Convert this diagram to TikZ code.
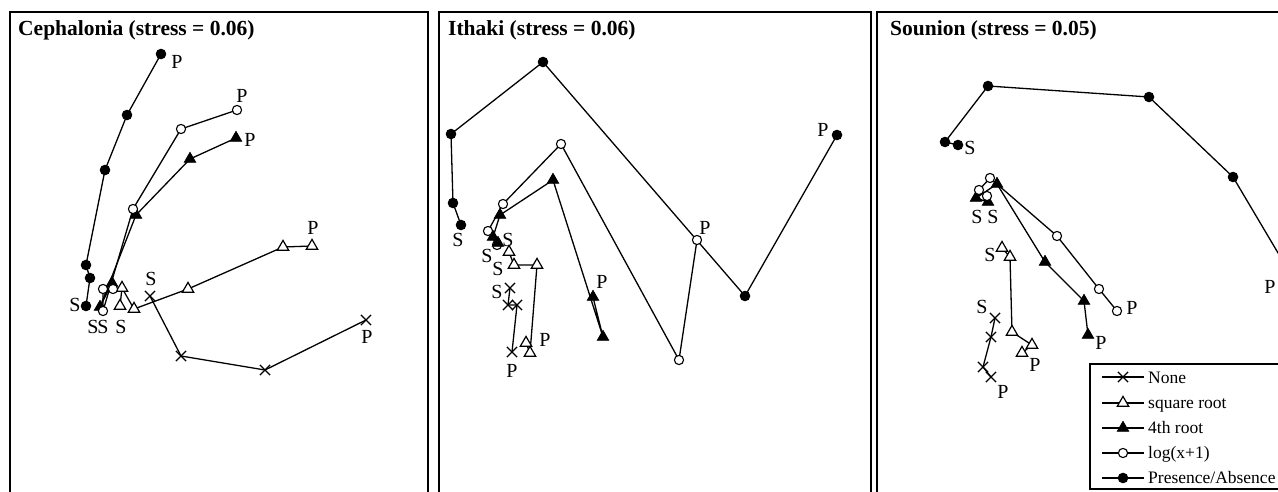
\documentclass[tikz,border=0pt]{standalone}
\usepackage{fontspec}
\setmainfont{Liberation Serif}
\usetikzlibrary{plotmarks}
\begin{document}
\begin{tikzpicture}[x=1pt,y=-1pt,
 ln/.style={line width=1.3pt},
 fc/.style={ln, mark=*, mark size=4.6pt, mark options={solid, fill=black, draw=black}},
 oc/.style={ln, mark=*, mark size=4.6pt, mark options={solid, fill=white, draw=black, line width=1.1pt}},
 ft/.style={ln, mark=triangle*, mark size=6.6pt, mark options={solid, fill=black, draw=black, line width=0.8pt}},
 ot/.style={ln, mark=triangle*, mark size=6.6pt, mark options={solid, fill=white, draw=black, line width=1.2pt}},
 xx/.style={ln, mark=x, mark size=7.2pt, mark options={solid, line width=1.3pt}},
 lab/.style={font=\fontsize{20}{20}\selectfont, inner sep=0},
 leg/.style={font=\fontsize{17.5}{17.5}\selectfont, inner sep=0, anchor=base west},
 ttl/.style={font=\fontsize{21.5}{21.5}\bfseries\selectfont, anchor=base west, inner sep=0},
 frm/.style={line width=2pt}
]
\useasboundingbox (0,0) rectangle (1278,492);
\fill[white] (0,0) rectangle (1278,492);
\clip (0,0) rectangle (1278,492);

% frames
\draw[frm] (10,530) -- (10,12) -- (428,12) -- (428,530);
\draw[frm] (439,530) -- (439,12) -- (871,12) -- (871,530);
\draw[frm] (877,530) -- (877,12) -- (1300,12);

% titles
\node[ttl] (t1) at (18,36) {Cephalonia (stress = 0.06)};
\node[ttl] (t2) at (448,36) {Ithaki (stress = 0.06)};
\node[ttl] (t3) at (890,36) {Sounion (stress = 0.05)};

% ---------- Cephalonia ----------
\draw[xx] plot coordinates {(150,296) (181,356) (265,370) (366,320)};
\draw[ot] plot coordinates {(312,246) (283,247) (188,289) (134,309) (122,288) (120,306)};
\draw[fc] plot coordinates {(161,54) (127,115) (105,170) (86,265) (90,278) (86,306)};
\draw[ft] plot coordinates {(236,138) (190,159) (136,215) (100,307) (112,283)};
\draw[oc] plot coordinates {(237,110) (181,129) (133,209) (103,311) (103,289) (113,289)};

\node[lab] (c1) at (177,62) {P};
\node[lab] (c2) at (242,96) {P};
\node[lab] (c3) at (250,140) {P};
\node[lab] (c4) at (313,228) {P};
\node[lab] (c5) at (367,337) {P};
\node[lab] (c6) at (75,305) {S};
\node[lab] (c7) at (93,327) {S};
\node[lab] (c8) at (103,327) {S};
\node[lab] (c9) at (121,327) {S};
\node[lab] (c10) at (151,279) {S};

% ---------- Ithaki ----------
\draw[xx] plot coordinates {(510,288) (508,305) (517,305) (512,352)};
\draw[ot] plot coordinates {(509,252) (514,265) (537,265) (530,353) (526,343)};
\draw[fc] plot coordinates {(461,225) (453,203) (451,134) (543,62) (745,296) (837,135)};
\draw[oc] plot coordinates {(697,240) (679,360) (561,144) (503,204) (488,231) (497,245)};
\draw[ft] plot coordinates {(593,297) (603,337) (553,180) (500,215) (493,237) (498,243)};

\node[lab] (i1) at (823,130) {P};
\node[lab] (i2) at (705,228) {P};
\node[lab] (i3) at (602,282) {P};
\node[lab] (i4) at (545,340) {P};
\node[lab] (i5) at (512,371) {P};
\node[lab] (i6) at (458,240) {S};
\node[lab] (i7) at (508,240) {S};
\node[lab] (i8) at (487,256) {S};
\node[lab] (i9) at (498,269) {S};
\node[lab] (i10) at (497,292) {S};

% ---------- Sounion ----------
\draw[xx] plot coordinates {(995,318) (991,337) (983,367) (991,377)};
\draw[ot] plot coordinates {(1002,248) (1010,257) (1012,332) (1032,345) (1022,353)};
\draw[fc] plot coordinates {(958,145) (945,142) (988,86) (1149,97) (1233,177) (1300,290)};
\draw[ft] plot coordinates {(1088,335) (1084,301) (1045,262) (997,184) (976,198) (988,202)};
\draw[oc] plot coordinates {(1117,311) (1099,289) (1057,236) (990,178) (979,190) (987,196)};

\node[lab] (s1) at (970,148) {S};
\node[lab] (s2) at (977,217) {S};
\node[lab] (s3) at (993,217) {S};
\node[lab] (s4) at (990,255) {S};
\node[lab] (s5) at (982,307) {S};
\node[lab] (s6) at (1132,308) {P};
\node[lab] (s7) at (1101,343) {P};
\node[lab] (s8) at (1035,365) {P};
\node[lab] (s9) at (1003,392) {P};
\node[lab] (s10) at (1270,287) {P};

% ---------- legend ----------
\draw[fill=white, line width=1.6pt] (1090,364) rectangle (1300,489);
\draw[ln] (1102,377) -- (1144,377);
\draw[xx] plot coordinates {(1123,377)};
\node[leg] (l1) at (1148,383) {None};
\draw[ln] (1102,403) -- (1144,403);
\draw[ot] plot coordinates {(1123,403)};
\node[leg] (l2) at (1148,408) {square root};
\draw[ln] (1102,428) -- (1144,428);
\draw[ft] plot coordinates {(1123,428)};
\node[leg] (l3) at (1148,433) {4th root};
\draw[ln] (1102,453) -- (1144,453);
\draw[oc] plot coordinates {(1123,453)};
\node[leg] (l4) at (1148,458) {log(x+1)};
\draw[ln] (1102,478) -- (1144,478);
\draw[fc] plot coordinates {(1123,478)};
\node[leg] (l5) at (1148,483) {Presence/Absence};
\end{tikzpicture}
\end{document}
